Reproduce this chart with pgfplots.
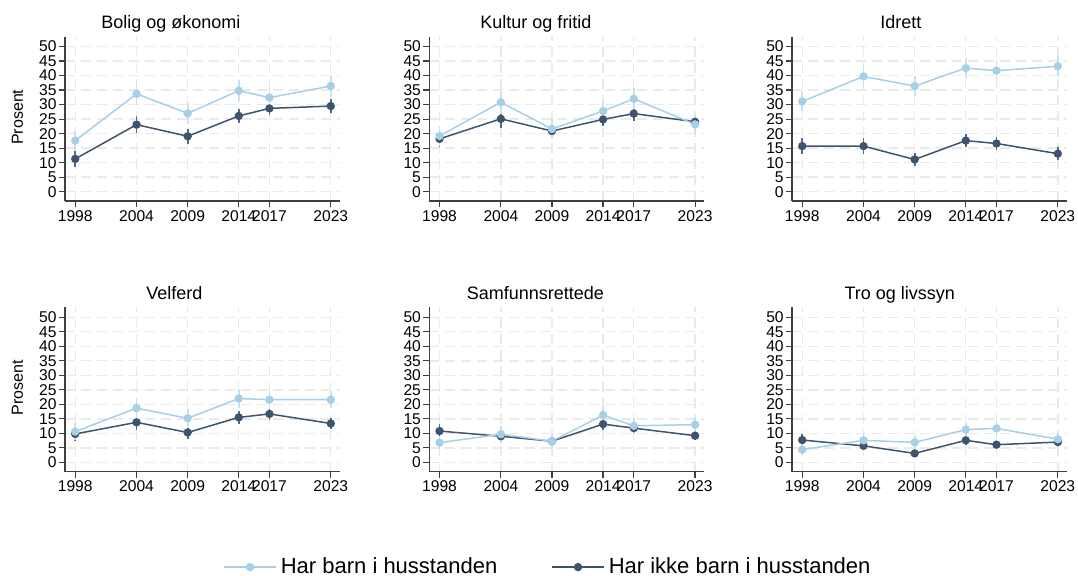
\documentclass[border=0pt]{standalone}
\usepackage{fontspec}
\setmainfont{Liberation Sans}
\usepackage{pgfplots}
\usepackage{pgfplotstable}
\pgfplotsset{compat=1.18}

\definecolor{lys}{RGB}{166,208,232}
\definecolor{lysci}{RGB}{200,226,241}
\definecolor{mork}{RGB}{62,84,110}
\definecolor{morkci}{RGB}{88,108,132}
\definecolor{rutenett}{RGB}{234,234,234}

% year, med barn (l, le), uten barn (d, de)
\pgfplotstableread{
year l le d de
1998 17.6 3.4 11.3 2.8
2004 33.7 4.0 23.1 2.9
2009 27.0 3.6 19.1 2.5
2014 34.8 3.6 26.1 2.4
2017 32.4 3.6 28.7 2.4
2023 36.4 3.6 29.5 2.4
}\bolig
\pgfplotstableread{
year l le d de
1998 19.2 3.4 18.2 2.8
2004 30.8 4.0 25.1 3.0
2009 21.6 3.4 20.9 2.5
2014 27.8 3.4 24.9 2.4
2017 32.0 3.6 26.9 2.4
2023 23.2 3.2 24.1 2.4
}\kultur
\pgfplotstableread{
year l le d de
1998 31.1 3.4 15.7 2.8
2004 39.7 4.0 15.7 2.8
2009 36.4 3.6 11.1 2.3
2014 42.6 3.6 17.6 2.2
2017 41.7 3.6 16.6 2.2
2023 43.2 3.4 13.1 2.2
}\idrett
\pgfplotstableread{
year l le d de
1998 10.6 3.0 9.8 2.5
2004 18.7 3.6 13.8 2.6
2009 15.2 3.2 10.3 2.2
2014 22.0 3.2 15.5 2.2
2017 21.6 3.2 16.7 2.2
2023 21.6 3.0 13.4 2.0
}\velferd
\pgfplotstableread{
year l le d de
1998 6.8 2.4 10.8 2.5
2004 9.7 3.0 9.0 2.2
2009 7.3 2.4 7.3 1.8
2014 16.3 3.0 13.2 2.0
2017 12.6 2.8 11.8 1.8
2023 13.0 2.6 9.2 1.6
}\samfunn
\pgfplotstableread{
year l le d de
1998 4.4 2.0 7.7 2.0
2004 7.6 2.4 5.7 1.6
2009 6.9 2.2 3.1 1.2
2014 11.3 2.4 7.6 1.5
2017 11.7 2.4 6.1 1.4
2023 8.0 2.0 7.0 1.3
}\tro

\pgfplotsset{
  every axis title shift=0pt,
  panel/.style={
    width=137.5pt, height=82.15pt, scale only axis,
    anchor=south west,
    xmin=1997, xmax=2023.9, ymin=-3.2, ymax=53.4,
    xtick={1998,2004,2009,2014,2017,2023},
    ytick={0,5,...,50},
    axis x line*=bottom, axis y line*=left,
    axis line style={-, draw=black!75, line width=0.6pt},
    tick style={draw=black!75, line width=0.6pt},
    major tick length=3pt, tick align=outside,
    grid=major,
    grid style={draw=rutenett, line width=0.7pt, dash pattern=on 5pt off 3pt},
    /pgf/number format/assume math mode=true,
    /pgf/number format/1000 sep={},
    tick label style={font=\fontsize{7.8}{9}\selectfont},
    yticklabel style={inner xsep=1pt},
    xticklabel style={inner ysep=1.5pt},
    title style={font=\fontsize{9}{11}\selectfont, anchor=base},
    ylabel style={font=\fontsize{8}{10}\selectfont, at={(axis description cs:-0.173,0.51)}, anchor=center},
    legend image code/.code={
      \draw[mark repeat=2, mark phase=2] plot coordinates {(0pt,0pt) (13pt,0pt) (26pt,0pt)};
    },
  },
  tittel/.style={title style={at={(axis description cs:#1,1.051)}}},
  mork/.style={color=mork, line width=0.75pt, mark=*, mark size=1.7pt,
    error bars/y dir=both, error bars/y explicit, error bars/error mark=none,
    error bars/error bar style={color=morkci, line width=0.9pt}},
  lys/.style={color=lys, line width=0.75pt, mark=*, mark size=1.7pt,
    error bars/y dir=both, error bars/y explicit, error bars/error mark=none,
    error bars/error bar style={color=lysci, line width=0.9pt}},
}

\begin{document}
\begin{tikzpicture}
\useasboundingbox (0,0) rectangle (539pt,288pt);

\begin{axis}[panel, at={(32.5pt,187.5pt)}, title={Bolig og økonomi}, tittel=0.385, ylabel={Prosent}]
\addplot[mork] table[x=year, y=d, y error=de] {\bolig};
\addplot[lys] table[x=year, y=l, y error=le] {\bolig};
\end{axis}

\begin{axis}[panel, at={(214.65pt,187.5pt)}, title={Kultur og fritid}, tittel=0.388]
\addplot[mork] table[x=year, y=d, y error=de] {\kultur};
\addplot[lys] table[x=year, y=l, y error=le] {\kultur};
\end{axis}

\begin{axis}[panel, at={(396pt,187.5pt)}, title={Idrett}, tittel=0.396]
\addplot[mork] table[x=year, y=d, y error=de] {\idrett};
\addplot[lys] table[x=year, y=l, y error=le] {\idrett};
\end{axis}

\begin{axis}[panel, at={(32.5pt,52.15pt)}, title={Velferd}, tittel=0.398, ylabel={Prosent}]
\addplot[mork] table[x=year, y=d, y error=de] {\velferd};
\addplot[lys] table[x=year, y=l, y error=le] {\velferd};
\end{axis}

\begin{axis}[panel, at={(214.65pt,52.15pt)}, title={Samfunnsrettede}, tittel=0.386,
  reverse legend,
  legend style={at={(axis description cs:0.435,-0.581)}, anchor=center, draw=none, fill=none,
    legend columns=2, font=\fontsize{11}{13}\selectfont,
    /tikz/every even column/.append style={column sep=25pt}},
]
\addplot[mork] table[x=year, y=d, y error=de] {\samfunn};
\addlegendentry{Har ikke barn i husstanden}
\addplot[lys] table[x=year, y=l, y error=le] {\samfunn};
\addlegendentry{Har barn i husstanden}
\end{axis}

\begin{axis}[panel, at={(396pt,52.15pt)}, title={Tro og livssyn}, tittel=0.392]
\addplot[mork] table[x=year, y=d, y error=de] {\tro};
\addplot[lys] table[x=year, y=l, y error=le] {\tro};
\end{axis}
\end{tikzpicture}
\end{document}
